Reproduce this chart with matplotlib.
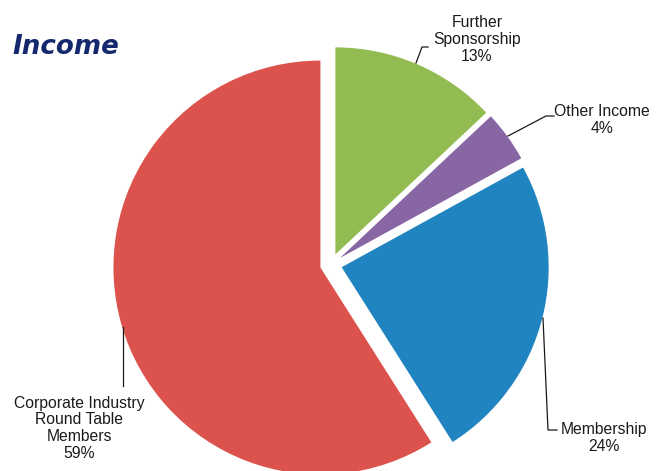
import matplotlib
matplotlib.use("Agg")
import matplotlib.pyplot as plt

labels = ["Further\nSponsorship", "Other Income", "Membership", "Corporate Industry\nRound Table\nMembers"]
values = [13, 4, 24, 59]
colors = ["#92BC52", "#8866A4", "#1F84BF", "#DC524C"]

W, H = 658, 471
fig = plt.figure(figsize=(W / 100, H / 100), dpi=100)
ax = fig.add_axes([0, 0, 1, 1])

cx, cy, R = 331, H - 264.5, 207
ax.pie(values, colors=colors, startangle=90, counterclock=False,
       center=(cx, cy), radius=R, explode=[11] * 4,
       wedgeprops=dict(linewidth=0))
ax.set_xlim(0, W)
ax.set_ylim(0, H)
ax.set_aspect("equal")
ax.axis("off")

def Y(y):
    return H - y

font = dict(family="Liberation Sans", fontsize=11.3, color="#1a1a1a",
            ha="center", linespacing=1.15)

# label texts (center x, baseline of last line in pixel coords)
ax.text(477, Y(61), f"{labels[0]}\n{values[0]}%", va="baseline", **font)
ax.text(602, Y(133), f"{labels[1]}\n{values[1]}%", va="baseline", **font)
ax.text(604, Y(451), f"{labels[2]}\n{values[2]}%", va="baseline", **font)
ax.text(79, Y(458), f"{labels[3]}\n{values[3]}%", va="baseline", **font)

lc = dict(color="#1a1a1a", linewidth=0.9)
ax.plot([428, 422, 416], [Y(47), Y(47), Y(63)], **lc)
ax.plot([554, 546, 508], [Y(116), Y(116), Y(136)], **lc)
ax.plot([557, 548, 543], [Y(430), Y(430), Y(318)], **lc)
ax.plot([123, 123], [Y(327), Y(386)], **lc)

ax.text(12, Y(54), "Income", family="DejaVu Sans", fontsize=18.8, fontweight="bold",
        fontstyle="italic", color="#14286E", va="baseline", ha="left")

fig.savefig("out.png", dpi=100)
